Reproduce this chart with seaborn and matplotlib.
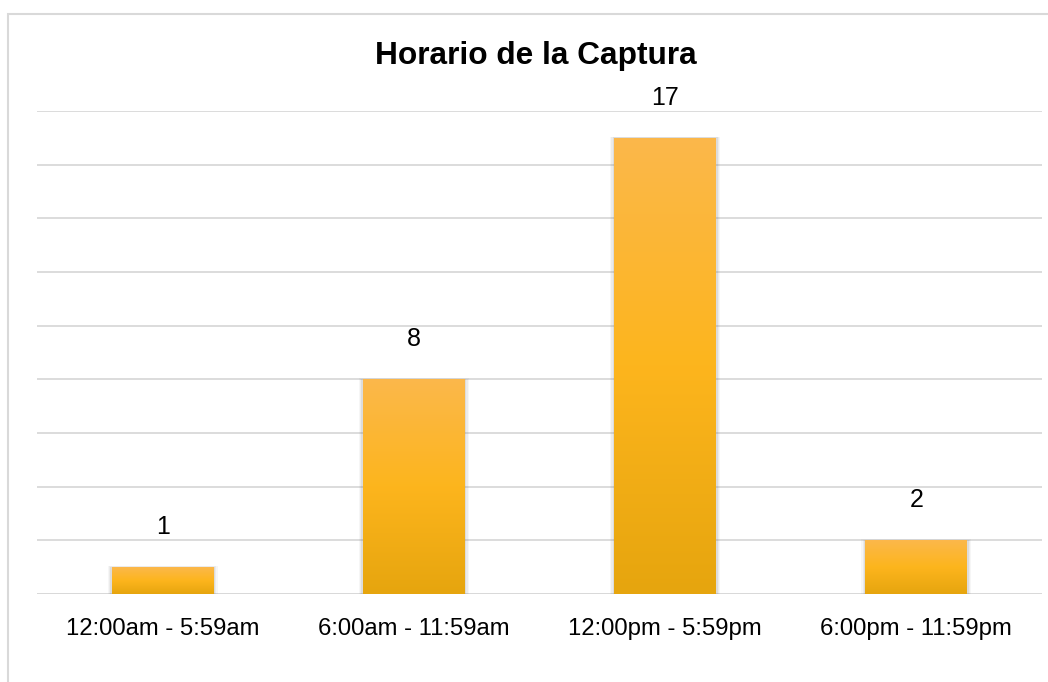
import matplotlib
matplotlib.use("Agg")
import matplotlib.pyplot as plt
import seaborn as sns
import numpy as np
import pandas as pd
from matplotlib.patches import Rectangle
from matplotlib.colors import LinearSegmentedColormap

categories = ["12:00am - 5:59am", "6:00am - 11:59am", "12:00pm - 5:59pm", "6:00pm - 11:59pm"]
values = [1, 8, 17, 2]
title = "Horario de la Captura"

df = pd.DataFrame({"cat": categories, "val": values})

sns.set_theme(style="white")
plt.rcParams['font.family'] = ['Liberation Sans', 'DejaVu Sans']

fig = plt.figure(figsize=(10.48, 6.82), dpi=100)
ax = fig.add_axes([37/1048, 88/682, (1042-37)/1048, (594-111)/682])

sns.barplot(data=df, x="cat", y="val", color="#FDB51D", width=0.405, ax=ax,
            zorder=3, linewidth=0, edgecolor="none")

ax.set_ylim(0, 18)
ax.set_xlim(-0.5, 3.5)
ax.set_yticks(np.arange(0, 19, 2))
ax.yaxis.grid(True, color="#D9D9D9", linewidth=1.3, zorder=0)
ax.xaxis.grid(False)
ax.tick_params(axis="y", left=False, labelleft=False)
ax.tick_params(axis="x", bottom=False, labelsize=17.2, colors="#000000", pad=11)
for s in ax.spines.values():
    s.set_visible(False)
ax.set_xlabel("")
ax.set_ylabel("")
ax.axhline(0, color="#D9D9D9", linewidth=1.3, zorder=2)

cmap = LinearSegmentedColormap.from_list("g", ["#E6A50E", "#FDB51D", "#FBB84B"])
grad = np.linspace(0, 1, 256).reshape(-1, 1)
for p in list(ax.patches):
    x0, y0 = p.get_x(), p.get_y()
    w, h = p.get_width(), p.get_height()
    # soft shadow
    for k, a in [(0.016, 0.06), (0.011, 0.08), (0.006, 0.12)]:
        sh = Rectangle((x0 - k, y0 - 0.08), w + 2 * k, h + 0.08 + k * 2.5,
                       facecolor="#707070", edgecolor="none", alpha=a, zorder=2.5)
        ax.add_patch(sh)
    im = ax.imshow(grad, extent=[x0, x0 + w, y0, y0 + h], origin="lower",
                   cmap=cmap, aspect="auto", zorder=3.5)
    im.set_clip_path(p)
    ax.text(x0 + w / 2, h + 1.23, f"{int(h)}", ha="center", va="baseline",
            fontsize=18, color="#000000", zorder=5)

ax.set_xlim(-0.5, 3.5)
ax.set_ylim(0, 18)

fig.text(535.5/1048, 1 - 64/682, title, ha="center", va="baseline",
         fontsize=22.8, fontweight="bold", color="#000000")

border = Rectangle((8/1048, -0.1), 1.2, 1 - 14/682 + 0.1, transform=fig.transFigure,
                   facecolor="none", edgecolor="#D9D9D9", linewidth=1.5, zorder=10)
fig.patches.append(border)

fig.savefig("out.png", dpi=100)
